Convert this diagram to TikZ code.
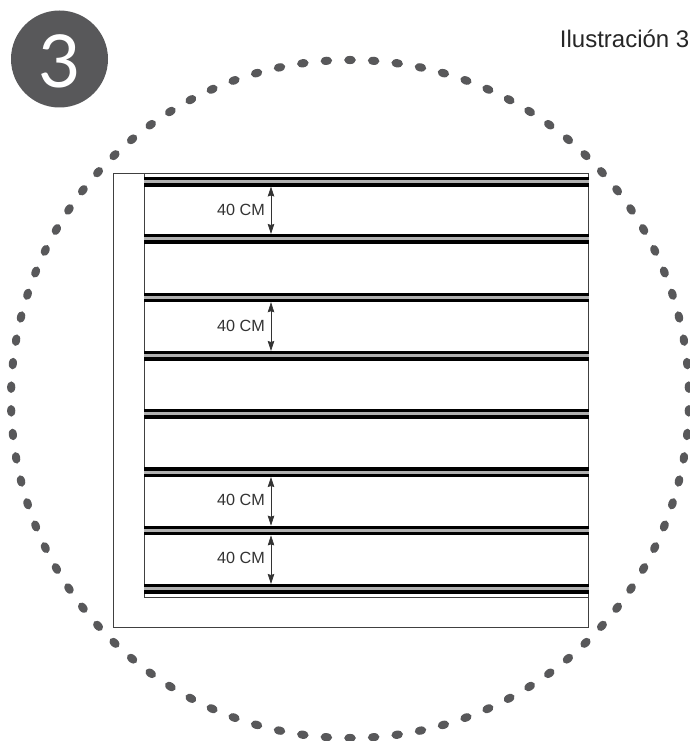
\documentclass[tikz,border=0pt]{standalone}
\usepackage{fontspec}
\setmainfont{Liberation Sans}
\newfontfamily\badgefont{Lato}
\usetikzlibrary{arrows.meta}
\definecolor{darkdot}{HTML}{58585A}
\definecolor{stripegray}{HTML}{B0B0B0}
\tikzset{
  measure/.style={{Stealth[length=10pt,width=6.5pt,inset=1pt]}-{Stealth[length=10pt,width=6.5pt,inset=1pt]},line width=0.7pt,draw=black!80},
  measurelabel/.style={anchor=east,inner sep=0pt,font=\fontsize{16.2}{18}\selectfont,text=black!80},
  frameline/.style={draw=black!75,line width=0.9pt}
}
\begin{document}
\begin{tikzpicture}[x=1pt,y=-1pt]
\useasboundingbox (0,0) rectangle (690,741);
% dotted ring
\foreach \a in {2,6,...,358}{
  \fill[darkdot,rotate around={\a:(350,399)}] (689,399) ellipse (4.1pt and 5.8pt);
}
% badge
\fill[darkdot] (59.5,59) circle (48.5pt);
\node[text=white,inner sep=0pt] (badge) at (59.5,61) {\badgefont\fontsize{73}{73}\selectfont 3};
\node[anchor=base east,inner sep=0pt,text=black!85,font=\fontsize{24}{26}\selectfont] (title) at (689.5,48) {Ilustración 3};
% frame
\draw[frameline] (113.5,173) rectangle (588.5,627.5);
\draw[frameline] (144,173) -- (144,597.3) -- (588.5,597.3);
% stripes
\foreach \y/\n in {176.8/s1,234/s2,292.5/s3,351/s4,409/s5,467.3/s6,525.7/s7,584/s8}{
  \fill[black] (144,\y) rectangle (588.5,\y+9.7);
  \fill[stripegray] (144,\y+3.3) rectangle (588.5,\y+6.4);
  \coordinate (\n t) at (271,\y);
  \coordinate (\n b) at (271,\y+9.7);
}
% measures
\draw[measure] (s1b) -- (s2t);
\draw[measure] (s3b) -- (s4t);
\draw[measure] (s6b) -- (s7t);
\draw[measure] (s7b) -- (s8t);
\node[measurelabel] (m1) at (265,210) {40 CM};
\node[measurelabel] (m2) at (265,326) {40 CM};
\node[measurelabel] (m3) at (265,499.5) {40 CM};
\node[measurelabel] (m4) at (265,557.5) {40 CM};
\end{tikzpicture}
\end{document}
